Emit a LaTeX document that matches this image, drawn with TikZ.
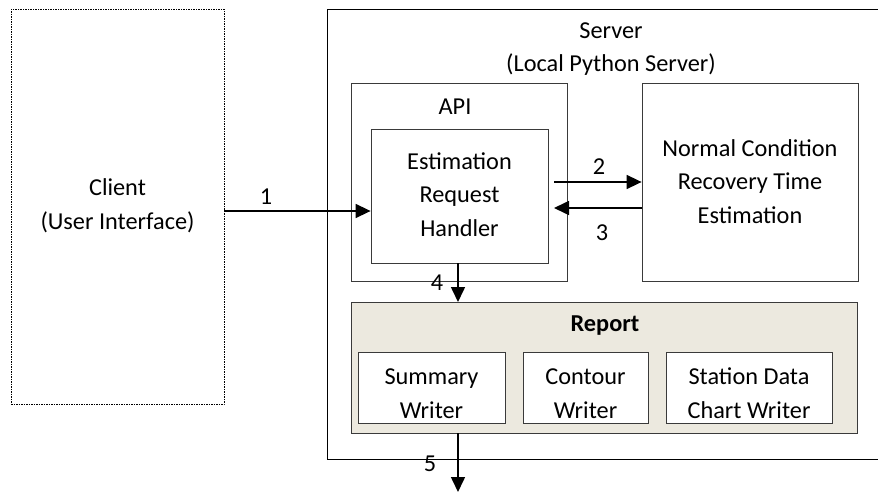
\documentclass[tikz,border=0pt]{standalone}
\usepackage{fontspec}
\setmainfont{Carlito}
\usetikzlibrary{arrows.meta}
\definecolor{boxline}{HTML}{3A3A3A}
\definecolor{repfill}{HTML}{ECE9DF}
\begin{document}
\begin{tikzpicture}[x=1pt,y=-1pt,
  font=\fontsize{24.3}{33.5}\selectfont,
  box/.style={draw=boxline, line width=0.8pt, inner sep=0pt},
  txt/.style={align=center, anchor=base, inner sep=0pt},
  arr/.style={line width=1.6pt, -{Triangle[length=15pt,width=14pt]}},
  lbl/.style={anchor=base, inner sep=0pt}]
\useasboundingbox (0,0) rectangle (878,492);
% boxes
\node[box, draw=black, dash pattern=on 1.5pt off 1pt, minimum width=213pt, minimum height=395pt] (client) at (117.5,207) {};
\node[box, draw=black, minimum width=568pt, minimum height=449.5pt] (server) at (611,234.25) {};
\node[box, minimum width=216pt, minimum height=198pt] (api) at (459,182) {};
\node[box, minimum width=177pt, minimum height=134pt] (handler) at (459.5,196) {};
\node[box, minimum width=216pt, minimum height=198pt] (normal) at (750,182) {};
\node[box, fill=repfill, minimum width=506pt, minimum height=131pt] (report) at (604,367.5) {};
\node[box, fill=white, minimum width=147pt, minimum height=71pt] (summary) at (431.5,387.5) {};
\node[box, fill=white, minimum width=125pt, minimum height=71pt] (contour) at (585.5,387.5) {};
\node[box, fill=white, minimum width=166pt, minimum height=71pt] (station) at (749,387.5) {};
% texts (base anchor = baseline of last line)
\node[txt] (tclient) at (117.5,229) {Client\\(User Interface)};
\node[txt] (tserver) at (611,72) {Server\\(Local Python Server)};
\node[txt] (tapi) at (455,115) {API};
\node[txt] (thandler) at (459.5,236) {Estimation\\Request\\Handler};
\node[txt] (tnormal) at (750,223) {Normal Condition\\Recovery Time\\Estimation};
\node[txt, font=\fontsize{24.3}{33.5}\selectfont\bfseries] (treport) at (605,331) {Report};
\node[txt] (tsummary) at (431.5,418) {Summary\\Writer};
\node[txt] (tcontour) at (585.5,418) {Contour\\Writer};
\node[txt] (tstation) at (749,418) {Station Data\\Chart Writer};
% connectors
\coordinate (a2s) at (554,182);
\coordinate (a3e) at (554,208);
\coordinate (a5e) at (458,492);
\draw[arr] (client.east |- 0,211) -- (handler.west |- 0,211);
\draw[arr] (a2s) -- (normal.west |- a2s);
\draw[arr] (normal.west |- a3e) -- (a3e);
\draw[arr] (458,263) -- (458,302);
\draw[arr] (458,433) -- (a5e);
% labels
\node[lbl] (l1) at (266,204) {1};
\node[lbl] (l2) at (599,175) {2};
\node[lbl] (l3) at (602,240) {3};
\node[lbl] (l4) at (437,290) {4};
\node[lbl] (l5) at (430,471) {5};
\end{tikzpicture}
\end{document}
